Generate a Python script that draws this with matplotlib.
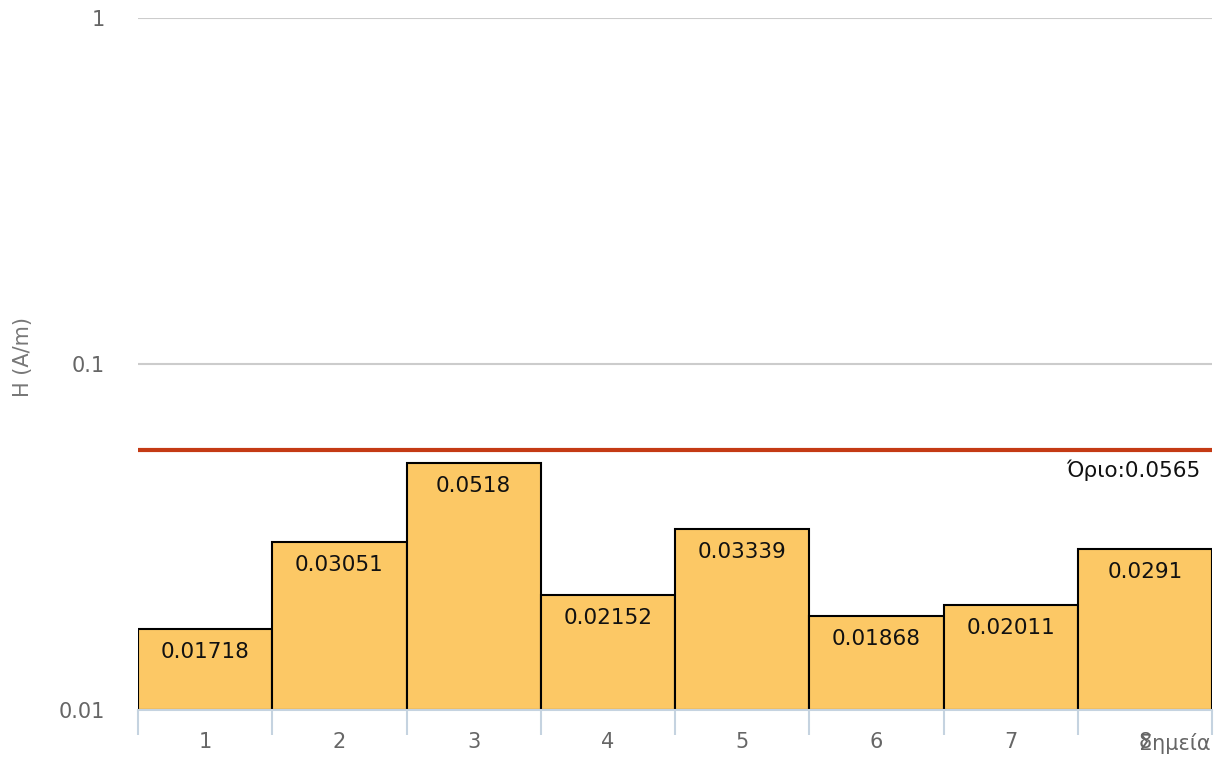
import matplotlib
matplotlib.use("Agg")
import matplotlib.pyplot as plt
import numpy as np

categories = ["1", "2", "3", "4", "5", "6", "7", "8"]
values = [0.01718, 0.03051, 0.0518, 0.02152, 0.03339, 0.01868, 0.02011, 0.0291]
value_labels = ["0.01718", "0.03051", "0.0518", "0.02152", "0.03339", "0.01868", "0.02011", "0.0291"]
limit = 0.0565
limit_label = "Όριο:0.0565"
y_ticks = [0.01, 0.1, 1]
y_tick_labels = ["0.01", "0.1", "1"]
y_min = 0.01

plt.rcParams['font.family'] = ['DejaVu Sans']

fig = plt.figure(figsize=(12.18, 7.58), dpi=100)
ax = fig.add_axes([138/1218, 48/758, 1074/1218, 692/758])
ax.set_yscale('log')
ax.set_ylim(y_min, 1)
n = len(categories)
ax.set_xlim(-0.5, n - 0.5)

x = np.arange(n)
heights = np.array(values) - y_min
ax.bar(x, heights, width=1.0, bottom=y_min, color='#fcc865', edgecolor='black', linewidth=1.5, zorder=2)

for xi, v, lab in zip(x, values, value_labels):
    ax.annotate(lab, (xi, v), xytext=(0, -23*0.72), textcoords='offset points',
                ha='center', va='center', fontsize=15.5, color='#111111', zorder=4)

ax.axhline(limit, color='#c43a14', linewidth=3, zorder=3)
ax.annotate(limit_label, (1, limit), xycoords=('axes fraction', 'data'), xytext=(-12*0.72, -20*0.72),
            textcoords='offset points', ha='right', va='center', fontsize=15.5, color='#111111')

for yt in [0.1, 1]:
    ax.axhline(yt, color='#cccccc', linewidth=1.5, zorder=1)

for s in ['top', 'right', 'left']:
    ax.spines[s].set_visible(False)
ax.spines['bottom'].set_color('#c5d3e0')
ax.spines['bottom'].set_linewidth(1.5)

ax.set_yticks(y_ticks)
ax.set_yticklabels(y_tick_labels)
ax.yaxis.set_minor_locator(matplotlib.ticker.NullLocator())
ax.tick_params(axis='y', length=0, pad=24, labelsize=15, labelcolor='#666666')

ax.set_xticks(np.arange(-0.5, n, 1.0))
ax.set_xticklabels([])
ax.tick_params(axis='x', which='major', length=18, width=1.5, color='#c5d3e0')
ax.set_xticks(x, minor=True)
ax.set_xticklabels(categories, minor=True)
ax.tick_params(axis='x', which='minor', length=0, pad=16, labelsize=15, labelcolor='#666666')

ax.set_ylabel('H (A/m)', fontsize=15, color='#777777')
ax.yaxis.set_label_coords(-0.098, 0.51)

fig.text(1211/1218, 1 - 743/758, 'Σημεία', ha='right', va='center', fontsize=15, color='#666666')

fig.savefig('out.png', dpi=100)
